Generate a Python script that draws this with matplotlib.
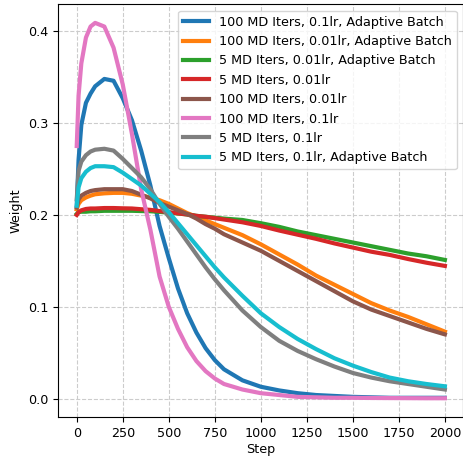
import matplotlib
matplotlib.use("Agg")
import matplotlib.pyplot as plt
import numpy as np

plt.rcParams['font.size'] = 9.2

steps = [0, 10, 25, 50, 75, 100, 150, 200, 250, 300, 350, 400, 450, 500, 550,
         600, 650, 700, 750, 800, 900, 1000, 1100, 1200, 1300, 1400, 1500,
         1600, 1700, 1800, 1900, 2000]

md100_lr01_ab = [0.210, 0.260, 0.298, 0.322, 0.332, 0.340, 0.348, 0.346, 0.327,
                 0.303, 0.270, 0.232, 0.188, 0.153, 0.120, 0.093, 0.072, 0.055,
                 0.042, 0.032, 0.020, 0.013, 0.009, 0.006, 0.004, 0.003, 0.002,
                 0.0015, 0.001, 0.001, 0.001, 0.001]
md100_lr001_ab = [0.206, 0.212, 0.216, 0.219, 0.221, 0.2225, 0.2235, 0.224, 0.224,
                  0.223, 0.221, 0.219, 0.216, 0.212, 0.207, 0.202, 0.198, 0.194,
                  0.190, 0.186, 0.178, 0.168, 0.157, 0.146, 0.134, 0.124, 0.114,
                  0.104, 0.096, 0.089, 0.081, 0.073]
md5_lr001_ab = [0.201, 0.203, 0.2035, 0.2035, 0.204, 0.204, 0.2045, 0.2045, 0.2045,
                0.2045, 0.2042, 0.204, 0.2033, 0.2025, 0.2015, 0.2005, 0.199, 0.198,
                0.197, 0.196, 0.1945, 0.191, 0.187, 0.182, 0.178, 0.174, 0.170,
                0.166, 0.162, 0.158, 0.155, 0.151]
md5_lr001 = [0.200, 0.203, 0.205, 0.2065, 0.207, 0.207, 0.2075, 0.2075, 0.2072,
             0.207, 0.2062, 0.2055, 0.2042, 0.203, 0.2018, 0.2005, 0.199, 0.198,
             0.1965, 0.195, 0.192, 0.188, 0.183, 0.1785, 0.174, 0.169, 0.1645,
             0.160, 0.1565, 0.152, 0.148, 0.1445]
md100_lr001 = [0.208, 0.217, 0.221, 0.224, 0.226, 0.227, 0.228, 0.228, 0.228,
               0.226, 0.222, 0.218, 0.213, 0.209, 0.205, 0.201, 0.196, 0.190,
               0.185, 0.179, 0.170, 0.161, 0.150, 0.139, 0.128, 0.117, 0.106,
               0.097, 0.090, 0.083, 0.076, 0.070]
md100_lr01 = [0.275, 0.330, 0.365, 0.393, 0.405, 0.409, 0.405, 0.382, 0.342,
              0.288, 0.228, 0.184, 0.133, 0.100, 0.076, 0.056, 0.041, 0.030,
              0.022, 0.016, 0.010, 0.006, 0.004, 0.002, 0.0015, 0.001, 0.001,
              0.0008, 0.0007, 0.0006, 0.0005, 0.0005]
md5_lr01 = [0.217, 0.248, 0.258, 0.265, 0.269, 0.271, 0.272, 0.270, 0.261,
            0.251, 0.241, 0.228, 0.212, 0.198, 0.185, 0.171, 0.157, 0.143,
            0.130, 0.118, 0.096, 0.078, 0.063, 0.052, 0.043, 0.035, 0.028,
            0.023, 0.019, 0.016, 0.013, 0.010]
md5_lr01_ab = [0.210, 0.230, 0.240, 0.247, 0.251, 0.253, 0.253, 0.252, 0.246,
               0.239, 0.232, 0.223, 0.214, 0.203, 0.191, 0.179, 0.167, 0.155,
               0.143, 0.132, 0.112, 0.093, 0.078, 0.065, 0.054, 0.044, 0.036,
               0.029, 0.023, 0.019, 0.016, 0.0135]

labels = ["100 MD Iters, 0.1lr, Adaptive Batch",
          "100 MD Iters, 0.01lr, Adaptive Batch",
          "5 MD Iters, 0.01lr, Adaptive Batch",
          "5 MD Iters, 0.01lr",
          "100 MD Iters, 0.01lr",
          "100 MD Iters, 0.1lr",
          "5 MD Iters, 0.1lr",
          "5 MD Iters, 0.1lr, Adaptive Batch"]
series = [md100_lr01_ab, md100_lr001_ab, md5_lr001_ab, md5_lr001,
          md100_lr001, md100_lr01, md5_lr01, md5_lr01_ab]
colors = ["tab:blue", "tab:orange", "tab:green", "tab:red",
          "tab:brown", "tab:pink", "tab:gray", "tab:cyan"]

fig, ax = plt.subplots(figsize=(4.64, 4.57), dpi=100)
fig.subplots_adjust(left=0.1257, right=0.9985, top=0.991, bottom=0.0875)

for ys, lab, c in zip(series, labels, colors):
    ax.plot(steps, ys, color=c, lw=3, label=lab)

ax.grid(True, linestyle='--', color='#cccccc', linewidth=0.8)
ax.set_xticks(np.arange(0, 2001, 250))
ax.set_yticks([0.0, 0.1, 0.2, 0.3, 0.4])
ax.set_xlabel("Step", labelpad=2)
ax.set_ylabel("Weight")
ax.legend(loc="upper right")

fig.savefig("out.png", dpi=100)
